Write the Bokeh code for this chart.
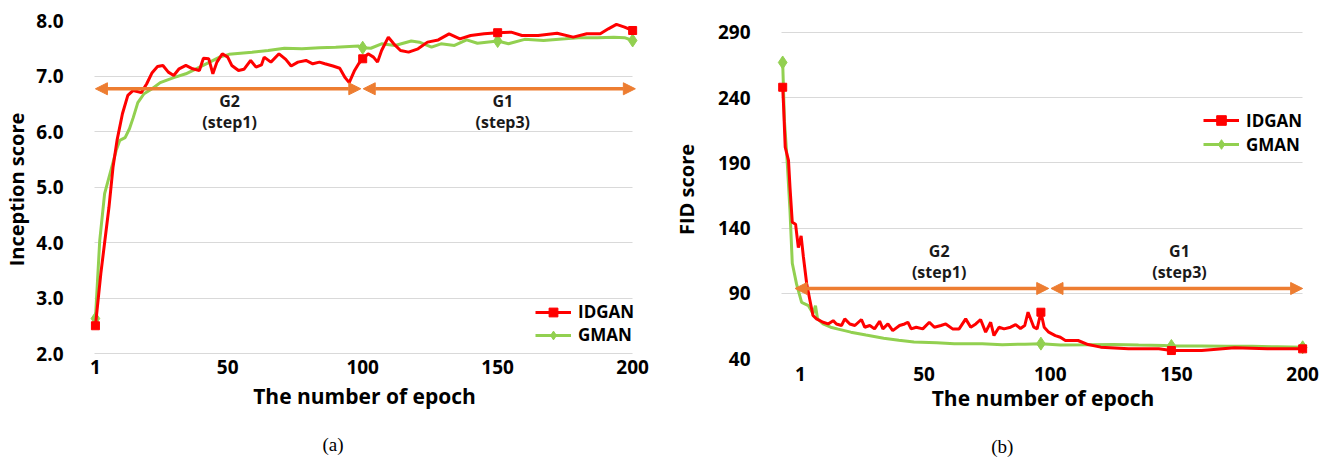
from bokeh.plotting import figure
from bokeh.layouts import row
from bokeh.models import (FixedTicker, PrintfTickFormatter, Arrow, NormalHead,
                          Range1d, LinearAxis)
from bokeh.core.properties import value
from bokeh.embed import file_html
from bokeh.resources import INLINE

FONT = "Open Sans"
RED = "#FF0000"
GREEN = "#92D050"
ORANGE = "#ED7D31"
GRID = "#D9D9D9"

# ---------------- Panel (a): Inception score ----------------
a_red_epoch = [1, 3, 6, 7.5, 9, 11, 13, 15, 18, 20, 22, 24, 26, 28, 30, 32, 34.5, 37,
               39.5, 41, 43, 44.5, 46, 48, 50, 51.5, 54, 56, 58.5, 60.5, 62.5, 63.5, 66,
               69, 71.5, 73.5, 76, 79, 81.5, 84, 86, 89, 91.5, 93.5, 95, 97, 98.5, 100,
               102, 104, 105.5, 107, 109.5, 111.5, 114, 117, 120.5, 124, 128, 132, 136,
               140, 145, 150, 155, 159, 165, 172, 178, 183, 188, 191, 194, 197, 200]
a_red_score = [2.50, 3.44, 4.63, 5.35, 5.84, 6.32, 6.65, 6.74, 6.70, 6.86, 7.06, 7.17,
               7.19, 7.07, 7.01, 7.13, 7.19, 7.13, 7.10, 7.32, 7.31, 7.04, 7.25, 7.40,
               7.34, 7.19, 7.10, 7.12, 7.28, 7.16, 7.20, 7.34, 7.25, 7.40, 7.30, 7.18,
               7.25, 7.28, 7.22, 7.25, 7.22, 7.18, 7.14, 6.97, 6.88, 7.10, 7.22, 7.31,
               7.40, 7.34, 7.25, 7.46, 7.70, 7.58, 7.46, 7.43, 7.49, 7.61, 7.65, 7.76,
               7.67, 7.73, 7.76, 7.78, 7.79, 7.73, 7.73, 7.77, 7.70, 7.76, 7.76, 7.85,
               7.93, 7.88, 7.82]
a_green_epoch = [1, 2.6, 4.4, 7, 8.7, 10, 12, 13.6, 15, 16.7, 19, 22, 25, 30, 34.5, 40,
                 47, 50.5, 59, 65, 71, 77.5, 84, 90, 98.5, 100, 103, 107, 112, 118, 121,
                 125.5, 129, 134, 138.5, 142.5, 150, 154, 160, 167, 175, 180, 187, 193,
                 197, 200]
a_green_score = [2.63, 4.04, 4.88, 5.35, 5.66, 5.84, 5.89, 6.05, 6.25, 6.52, 6.68, 6.77,
                 6.88, 6.97, 7.04, 7.17, 7.34, 7.39, 7.43, 7.46, 7.50, 7.49, 7.51, 7.52,
                 7.54, 7.51, 7.50, 7.58, 7.55, 7.63, 7.61, 7.52, 7.58, 7.55, 7.65, 7.59,
                 7.63, 7.58, 7.66, 7.64, 7.67, 7.69, 7.69, 7.70, 7.69, 7.64]
a_marker_epochs = [1, 100, 150, 200]
a_y_ticks = [2, 3, 4, 5, 6, 7, 8]
a_x_ticks = [1, 50, 100, 150, 200]
a_arrow_y = 6.77
a_arrows = [(1, 99.3), (100.2, 201)]
a_text_x = [50.7, 50.7, 151.9, 151.9]
a_text_y = [6.55, 6.17, 6.55, 6.17]
a_text = ["G2", "(step1)", "G1", "(step3)"]

# ---------------- Panel (b): FID score ----------------
b_red_epoch = [-6, -5.7, -5, -3.7, -3.1, -2.2, -0.9, 0.2, 1.3, 2.2, 3.5, 4.8, 6, 7.4, 10,
               12, 14, 15.3, 17.3, 18.6, 20.6, 22.6, 25.2, 26.5, 28.5, 30.4, 32.4, 33.7,
               35.7, 37.6, 40.3, 42.3, 43.6, 44.9, 46.9, 49.5, 52.1, 54.1, 56.7, 58.6,
               61.3, 63.9, 66.5, 68.5, 70.5, 72.4, 74.4, 76.4, 77.7, 79.7, 81.7, 84.3,
               86.3, 88.2, 89.9, 91.2, 93.5, 94.8, 96.3, 97.6, 99.4, 102, 104, 106, 111,
               115, 120, 131, 143, 148, 160, 173, 186, 197, 200]
b_red_score = [248, 236, 202, 192, 171, 144.5, 143, 125, 134, 118, 97.5, 84.5, 73, 70.4,
               67.8, 66.5, 69, 66.5, 65.3, 70.4, 66.5, 65.3, 69.9, 64, 65.3, 62.7, 68.6,
               62.7, 66.5, 61.4, 65.3, 66.5, 67.8, 62.7, 64, 62.7, 67.8, 64, 65.3, 66.5,
               62.7, 62.7, 70.4, 64, 66.5, 69.9, 60.2, 67.8, 57.6, 64, 62.7, 64, 66, 63,
               65.3, 75.5, 64, 62.7, 75.5, 64, 60.2, 57.6, 56.3, 53.8, 53.8, 50.7, 48.7,
               47.4, 47.4, 46.1, 46.1, 48.2, 47.4, 47.4, 47.4]
b_green_epoch = [-6, -5.3, -4.4, -3.1, -2.2, -0.5, 1.5, 4.2, 6, 7, 7.8, 10, 13, 16, 21,
                 27, 34, 40, 46, 55, 62, 73, 81, 90, 96.3, 104, 115, 125, 135, 145, 148,
                 160, 170, 180, 190, 200]
b_green_score = [267, 222, 197, 153, 113, 97, 83, 80.5, 74.5, 80.5, 70.5, 66.5, 64, 62.5,
                 60.2, 58, 55.5, 54, 52.6, 52, 51.3, 51.3, 50.6, 51, 51.4, 50.4, 50.5,
                 50.7, 50.3, 50.0, 49.6, 49.6, 49.3, 49.3, 49.0, 48.6]
b_marker_epochs = [-6, 96.3, 148, 200]
b_y_ticks = [40, 90, 140, 190, 240, 290]
b_x_ticks = [1, 50, 100, 150, 200]
b_arrow_y = 93.7
b_arrows = [(-1.1, 99.4), (100.3, 200)]
b_text_x = [56, 56, 151.2, 151.2]
b_text_y = [122.8, 106.7, 122.8, 106.7]
b_text = ["G2", "(step1)", "G1", "(step3)"]

# sub-figure captions, placed under the given epoch position
a_caption, a_caption_at = "(a)", 89
b_caption, b_caption_at = "(b)", 81


def pick(epochs, scores, wanted):
    xs, ys = [], []
    for w in wanted:
        i = epochs.index(w)
        xs.append(epochs[i])
        ys.append(scores[i])
    return xs, ys


def make_panel(width, borders, xr, yr, red_e, red_s, green_e, green_s,
               marks, yticks, xticks, yfmt, ylabel, grid_bounds, arrow_y, arrows,
               tx, ty, tt, legend_loc, legend_h, caption, cap_at, cap_standoff,
               ystand, ylabstand, xstand, xlabstand):
    bl, br, bt, bb = borders
    p = figure(width=width, height=459, output_backend="svg", toolbar_location=None,
               x_range=Range1d(*xr), y_range=Range1d(*yr),
               min_border_left=bl, min_border_right=br, min_border_top=bt,
               min_border_bottom=bb)
    p.outline_line_color = None
    p.background_fill_color = "white"
    p.border_fill_color = "white"
    p.xgrid.grid_line_color = None
    p.ygrid.grid_line_color = GRID
    p.ygrid.grid_line_width = 1
    p.ygrid.cross_bounds = grid_bounds

    for ax in (p.xaxis[0], p.yaxis[0]):
        ax.axis_line_color = None
        ax.major_tick_line_color = None
        ax.minor_tick_line_color = None
        ax.major_tick_out = 0
        ax.major_tick_in = 0
        ax.major_label_text_font = FONT
        ax.major_label_text_font_size = "19px"
        ax.major_label_text_font_style = "bold"
        ax.major_label_text_color = "black"
        ax.axis_label_text_font = FONT
        ax.axis_label_text_font_style = "bold"
        ax.axis_label_text_color = "black"

    p.xaxis[0].ticker = FixedTicker(ticks=xticks)
    p.xaxis[0].major_label_standoff = xstand
    p.xaxis[0].axis_label = "The number of epoch"
    p.xaxis[0].axis_label_text_font_size = "21px"
    p.xaxis[0].axis_label_standoff = xlabstand

    p.yaxis[0].ticker = FixedTicker(ticks=yticks)
    p.yaxis[0].formatter = PrintfTickFormatter(format=yfmt)
    p.yaxis[0].major_label_standoff = ystand
    p.yaxis[0].axis_label = ylabel
    p.yaxis[0].axis_label_text_font_size = "20px"
    p.yaxis[0].axis_label_standoff = ylabstand

    # caption "(a)" / "(b)" as a single tick label on a second, bare axis
    cap = LinearAxis(ticker=FixedTicker(ticks=[cap_at]),
                     major_label_overrides={cap_at: caption},
                     axis_line_color=None, major_tick_line_color=None,
                     minor_tick_line_color=None, major_tick_out=0, major_tick_in=0,
                     minor_tick_out=0, minor_tick_in=0,
                     major_label_standoff=cap_standoff,
                     major_label_text_font="Liberation Serif",
                     major_label_text_font_size="19px",
                     major_label_text_font_style="normal",
                     major_label_text_color="black")
    p.add_layout(cap, "below")

    # orange phase arrows
    for (x0, x1) in arrows:
        p.add_layout(Arrow(
            start=NormalHead(size=12, fill_color=ORANGE, line_color=ORANGE),
            end=NormalHead(size=12, fill_color=ORANGE, line_color=ORANGE),
            x_start=x0, y_start=arrow_y, x_end=x1, y_end=arrow_y,
            line_color=ORANGE, line_width=3.5))

    p.text(x=tx, y=ty, text=tt, text_font=value(FONT), text_font_size="16px",
           text_font_style="bold", text_align="center", text_baseline="middle",
           text_color="#1a1a1a")

    # series
    p.line(green_e, green_s, line_color=GREEN, line_width=3, legend_label="GMAN")
    gx, gy = pick(green_e, green_s, marks)
    p.scatter(gx, gy, marker="diamond", size=13, fill_color=GREEN, line_color=GREEN,
              legend_label="GMAN")
    p.line(red_e, red_s, line_color=RED, line_width=3, legend_label="IDGAN")
    rx, ry = pick(red_e, red_s, marks)
    p.scatter(rx, ry, marker="square", size=8, fill_color=RED, line_color=RED,
              legend_label="IDGAN")

    lg = p.legend[0]
    lg.items = [it for it in lg.items if it.label.value == "IDGAN"] + \
               [it for it in lg.items if it.label.value == "GMAN"]
    lg.location = legend_loc
    lg.glyph_width = 36
    lg.glyph_height = legend_h
    lg.label_height = legend_h
    lg.label_standoff = 7
    lg.spacing = 0
    lg.padding = 0
    lg.margin = 0
    lg.border_line_color = None
    lg.background_fill_alpha = 0
    lg.label_text_font = FONT
    lg.label_text_font_size = "17px"
    lg.label_text_font_style = "bold"
    lg.label_text_color = "black"
    return p


# frames: top at 20 px, bottom at 358 px for both panels
pa = make_panel(669, (80, 24, 20, 101), (-3.42, 204.76), (1.91, 8.0),
                a_red_epoch, a_red_score, a_green_epoch, a_green_score,
                a_marker_epochs, a_y_ticks, a_x_ticks, "%.1f", "Inception score",
                (0.6, 200), a_arrow_y, a_arrows, a_text_x, a_text_y, a_text,
                (452, 12), 22, a_caption, a_caption_at, 21, 20, 3, 1, 5)

pb = make_panel(669, (101, 26, 20, 101), (-9.64, 203.9), (40, 299.2),
                b_red_epoch, b_red_score, b_green_epoch, b_green_score,
                b_marker_epochs, b_y_ticks, b_x_ticks, "%d", "FID score",
                (-6.5, 200), b_arrow_y, b_arrows, b_text_x, b_text_y, b_text,
                (430, 202), 24, b_caption, b_caption_at, 21, 23, 15, 8, 0)

layout = row(pa, pb)
open("out.html", "w").write(file_html(layout, INLINE))
